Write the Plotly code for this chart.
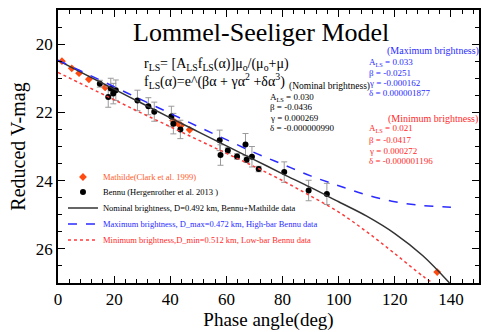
import plotly.graph_objects as go

# ---- data ----
bennu_phase = [14.9, 17.9, 18.8, 19.7, 20.6, 28.3, 32.2, 34.3, 40.4, 41.1, 43.6,
               57.6, 57.9, 60.5, 63.8, 66.8, 67.2, 69.1, 71.5, 80.6, 89.3, 95.8]
bennu_mag = [21.16, 21.55, 21.30, 21.45, 21.35, 21.65, 21.82, 21.98, 22.12, 22.33, 22.50,
             22.82, 23.25, 23.12, 23.29, 22.94, 23.39, 23.30, 23.66, 23.75, 24.29, 24.39]
bennu_err = [0.10, 0.30, 0.30, 0.30, 0.30, 0.30, 0.25, 0.28, 0.30, 0.30, 0.27,
             0.30, 0.30, 0.08, 0.08, 0.32, 0.08, 0.30, 0.08, 0.30, 0.30, 0.31]

mathilde_phase = [1.4, 4.9, 7.5, 11.0, 16.8, 41.0, 41.9, 43.0, 43.9, 46.9, 135.1]
mathilde_mag = [20.50, 20.71, 20.85, 21.03, 21.27, 22.24, 22.30, 22.35, 22.38, 22.51, 26.68]

nom_phase = [0, 10, 20, 30, 40, 50, 60, 70, 80, 90, 100, 110, 120, 130, 139.5]
nom_mag = [20.48, 20.90, 21.32, 21.74, 22.16, 22.57, 22.98, 23.39, 23.80, 24.20, 24.62,
           25.04, 25.55, 26.20, 27.00]

max_phase = [0, 10, 20, 30, 40, 50, 60, 70, 80, 90, 100, 110, 120, 130, 140]
max_mag = [20.47, 20.86, 21.25, 21.64, 22.03, 22.42, 22.80, 23.18, 23.52, 23.86, 24.15,
           24.42, 24.62, 24.73, 24.78]

min_phase = [0, 10, 20, 30, 40, 50, 60, 70, 80, 90, 100, 110, 120, 130, 133.5]
min_mag = [20.83, 21.23, 21.63, 22.03, 22.42, 22.81, 23.20, 23.59, 24.00, 24.45, 24.92,
           25.50, 26.14, 26.80, 27.00]

x_ticks = [0, 20, 40, 60, 80, 100, 120, 140]
y_ticks = [20, 22, 24, 26]

# ---- layout geometry ----
W, H = 489, 332
L, R, T, B = 58, 8, 10, 49
PW, PH = W - L - R, H - T - B
SERIF = "Liberation Serif"
BLUE = "#2b2bff"
RED = "#ff2a2a"
ORANGE = "#ff5a1f"


def px(x):
    return (x - L) / PW


def py(y):
    return (H - B - y) / PH


fig = go.Figure()

fig.add_trace(go.Scatter(
    x=mathilde_phase, y=mathilde_mag, mode="markers",
    marker=dict(symbol="diamond", size=6, color="#ff4a12"),
    name='<span style="color:%s">Mathilde(Clark et al. 1999)</span>' % ORANGE, legend="legend"))

fig.add_trace(go.Scatter(
    x=bennu_phase, y=bennu_mag, mode="markers",
    marker=dict(symbol="circle", size=6, color="black"),
    error_y=dict(type="data", array=bennu_err, color="#9a9a9a", thickness=1, width=3),
    name="Bennu (Hergenrother et al. 2013 )", legend="legend2"))

fig.add_trace(go.Scatter(
    x=nom_phase, y=nom_mag, mode="lines", line=dict(color="#333333", width=1.5, shape="spline"),
    name="Nominal brightness, D=0.492 km, Bennu+Mathilde data", legend="legend3"))

fig.add_trace(go.Scatter(
    x=max_phase, y=max_mag, mode="lines",
    line=dict(color=BLUE, width=1.5, dash="dash", shape="spline"),
    name='<span style="color:%s">Maximum brightness, D_max=0.472 km, High-bar Bennu data</span>' % BLUE,
    legend="legend4"))

fig.add_trace(go.Scatter(
    x=min_phase, y=min_mag, mode="lines",
    line=dict(color="#ff3838", width=1.5, dash="dot", shape="spline"),
    name='<span style="color:%s">Minimum brightness,D_min=0.512 km, Low-bar Bennu data</span>' % RED,
    legend="legend5"))

annots = []


def add_text(x, y, text, size, color="black", xanchor="left"):
    annots.append(dict(x=px(x), y=py(y), xref="paper", yref="paper", text=text,
                       showarrow=False, xanchor=xanchor, yanchor="middle",
                       font=dict(family=SERIF, size=size, color=color)))


def add_block(x, y0, step, lines, color, nudge=1.5):
    # first line carries a subscript, so its box is taller
    for i, t in enumerate(lines):
        add_text(x, y0 + step * i - (nudge if i == 0 else 0), t, 9, color=color)


add_text(262, 32, "Lommel-Seeliger Model", 26, xanchor="center")
add_text(142, 65, "r<sub>LS</sub>= [A<sub>LS</sub>f<sub>LS</sub>(α)]μ<sub>o</sub>/(μ<sub>o</sub>+μ)", 14)
add_text(142, 81, "f<sub>LS</sub>(α)=e^(βα + γα<sup>2</sup> +δα<sup>3</sup>)", 14)
add_text(288, 86, "(Nominal brightness)", 9.5)

add_block(269, 97.5, 10, ["A<sub>LS</sub> = 0.030", "β = -0.0436", "γ = 0.000269", "δ = -0.000000990"],
          "black", nudge=0)

add_text(387, 50.5, "(Maximum brightness)", 10, color=BLUE)
add_block(368, 63, 10, ["A<sub>LS</sub> = 0.033", "β = -0.0251", "γ = -0.000162", "δ = 0.000001877"],
          BLUE, nudge=0.5)

add_text(388, 119, "(Minimum brightness)", 10, color=RED)
add_block(368, 130, 10.3, ["A<sub>LS</sub> = 0.021", "β = -0.0417", "γ = 0.000272", "δ = -0.000001196"],
          RED)

axis_common = dict(
    showline=True, linecolor="black", linewidth=1.5, mirror="allticks",
    ticks="inside", ticklen=7, tickwidth=1.2, tickcolor="black",
    showgrid=False, zeroline=False,
    tickfont=dict(family=SERIF, size=17, color="black"),
)

legend_common = dict(xanchor="left", yanchor="middle", bgcolor="rgba(0,0,0,0)",
                     font=dict(family=SERIF, size=8.5, color="black"),
                     itemwidth=30, borderwidth=0)
legend_rows = [177, 192, 208, 224, 240]
legend_layout = {}
for i, row in enumerate(legend_rows):
    key = "legend" if i == 0 else "legend%d" % (i + 1)
    legend_layout[key] = dict(x=px(63), y=py(row), **legend_common)

fig.update_layout(
    width=W, height=H,
    margin=dict(l=L, r=R, t=T, b=B),
    paper_bgcolor="white", plot_bgcolor="white",
    showlegend=True,
    annotations=annots,
    xaxis=dict(range=[0, 150], tickvals=x_ticks,
               minor=dict(dtick=4, ticklen=4, ticks="inside", tickcolor="black", tickwidth=1),
               title=dict(text="Phase angle(deg)", font=dict(family=SERIF, size=19, color="black"),
                          standoff=2),
               **axis_common),
    yaxis=dict(range=[27, 19], tickvals=y_ticks,
               minor=dict(dtick=0.5, ticklen=4, ticks="inside", tickcolor="black", tickwidth=1),
               title=dict(text="Reduced V-mag", font=dict(family=SERIF, size=20, color="black"),
                          standoff=5),
               **axis_common),
    **legend_layout,
)

fig.write_html("out.html")
